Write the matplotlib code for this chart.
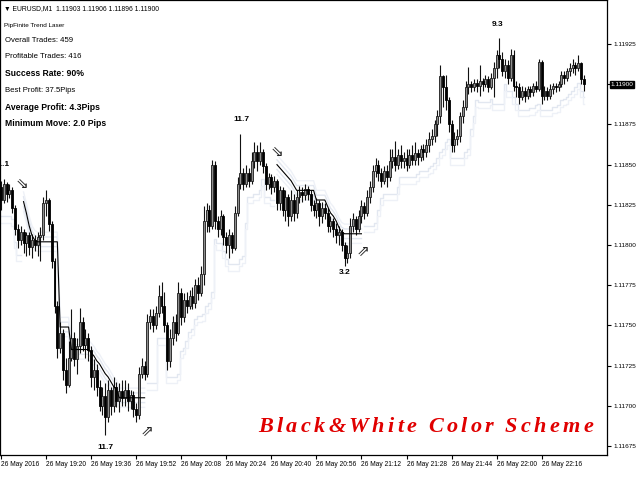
import numpy as np
import matplotlib
matplotlib.use("Agg")
import matplotlib.pyplot as plt
import matplotlib.transforms as mtransforms
from matplotlib import font_manager
from matplotlib.font_manager import FontProperties
from matplotlib.textpath import TextToPath

# --- EURUSD M1 candles, values in points above 1.10000 (1 point = 0.00001) ---
BASE = 1.10
PT = 1e-5
first_open = 1836
closes = [1828, 1838, 1832, 1834, 1823, 1810, 1803, 1808, 1801, 1806,
          1799, 1803, 1800, 1805, 1806, 1826, 1828, 1813, 1790, 1762,
          1736, 1745, 1722, 1713, 1730, 1742, 1729, 1737, 1752, 1738,
          1742, 1735, 1718, 1722, 1712, 1700, 1706, 1693, 1710, 1700,
          1712, 1703, 1709, 1705, 1710, 1703, 1707, 1698, 1694, 1720,
          1725, 1720, 1752, 1756, 1750, 1758, 1768, 1762, 1750, 1728,
          1742, 1752, 1745, 1770, 1755, 1766, 1762, 1768, 1764, 1775,
          1770, 1782, 1815, 1822, 1812, 1850, 1815, 1810, 1818, 1805,
          1800, 1806, 1798, 1820, 1838, 1845, 1838, 1845, 1840, 1852,
          1858, 1852, 1858, 1849, 1838, 1842, 1836, 1840, 1826, 1834,
          1822, 1830, 1818, 1828, 1820, 1830, 1833, 1831, 1835, 1832,
          1825, 1822, 1826, 1818, 1823, 1820, 1812, 1815, 1810, 1806,
          1808, 1800, 1792, 1795, 1812, 1816, 1810, 1818, 1824, 1820,
          1830, 1836, 1846, 1850, 1845, 1840, 1846, 1842, 1852, 1855,
          1850, 1856, 1852, 1854, 1850, 1856, 1853, 1857, 1855, 1860,
          1858, 1862, 1866, 1868, 1875, 1880, 1905, 1898, 1890, 1875,
          1862, 1866, 1868, 1880, 1886, 1898, 1900, 1898, 1901, 1899,
          1902, 1900, 1903, 1898, 1904, 1910, 1918, 1916, 1908, 1912,
          1904, 1918, 1899, 1898, 1892, 1896, 1893, 1897, 1895, 1899,
          1897, 1914, 1893, 1896, 1893, 1897, 1899, 1898, 1900, 1906,
          1904, 1908, 1910, 1912, 1910, 1913, 1903, 1900]
highs = [1840, 1841, 1839, 1838, 1836, 1825, 1813, 1812, 1810, 1808,
         1808, 1807, 1806, 1808, 1811, 1830, 1834, 1829, 1815, 1792,
         1765, 1752, 1748, 1730, 1740, 1760, 1746, 1742, 1761, 1755,
         1748, 1745, 1737, 1729, 1726, 1716, 1712, 1714, 1716, 1712,
         1718, 1715, 1714, 1716, 1716, 1714, 1710, 1709, 1702, 1724,
         1730, 1728, 1757, 1760, 1760, 1762, 1775, 1777, 1771, 1752,
         1748, 1756, 1757, 1777, 1773, 1770, 1771, 1772, 1774, 1779,
         1780, 1787, 1824, 1826, 1825, 1853, 1852, 1818, 1822, 1819,
         1808, 1810, 1808, 1824, 1842, 1869, 1848, 1850, 1848, 1858,
         1864, 1862, 1864, 1860, 1851, 1845, 1844, 1843, 1841, 1837,
         1836, 1834, 1832, 1834, 1832, 1834, 1837, 1836, 1838, 1837,
         1834, 1828, 1829, 1828, 1827, 1826, 1823, 1818, 1817, 1814,
         1812, 1810, 1802, 1800, 1817, 1820, 1818, 1822, 1828, 1827,
         1834, 1840, 1850, 1854, 1853, 1848, 1849, 1850, 1860, 1860,
         1865, 1860, 1862, 1858, 1860, 1860, 1862, 1864, 1860, 1862,
         1863, 1866, 1870, 1872, 1878, 1884, 1912, 1906, 1906, 1892,
         1878, 1870, 1872, 1883, 1890, 1902, 1911, 1902, 1903, 1903,
         1912, 1904, 1906, 1905, 1907, 1914, 1921, 1929, 1920, 1916,
         1915, 1922, 1921, 1902, 1901, 1899, 1898, 1899, 1899, 1901,
         1902, 1916, 1915, 1899, 1898, 1900, 1901, 1901, 1902, 1908,
         1908, 1910, 1913, 1916, 1914, 1918, 1914, 1906]
lows = [1822, 1826, 1827, 1829, 1820, 1806, 1798, 1800, 1795, 1793,
        1794, 1792, 1796, 1793, 1790, 1803, 1818, 1809, 1786, 1758,
        1730, 1733, 1716, 1708, 1712, 1728, 1725, 1720, 1733, 1734,
        1730, 1728, 1712, 1710, 1706, 1697, 1694, 1682, 1690, 1694,
        1696, 1699, 1696, 1700, 1700, 1697, 1698, 1693, 1690, 1692,
        1717, 1716, 1718, 1748, 1746, 1748, 1755, 1758, 1746, 1722,
        1724, 1738, 1740, 1744, 1750, 1752, 1758, 1760, 1760, 1761,
        1766, 1768, 1775, 1808, 1808, 1810, 1810, 1805, 1806, 1800,
        1795, 1792, 1795, 1797, 1818, 1835, 1834, 1836, 1836, 1838,
        1848, 1846, 1850, 1845, 1834, 1835, 1832, 1833, 1822, 1822,
        1818, 1815, 1812, 1815, 1815, 1817, 1826, 1827, 1828, 1828,
        1821, 1818, 1817, 1812, 1814, 1816, 1808, 1808, 1805, 1801,
        1800, 1796, 1787, 1789, 1792, 1808, 1806, 1808, 1814, 1816,
        1818, 1826, 1833, 1842, 1840, 1836, 1838, 1836, 1840, 1848,
        1846, 1847, 1848, 1848, 1846, 1848, 1850, 1850, 1850, 1852,
        1853, 1855, 1858, 1862, 1864, 1868, 1876, 1886, 1884, 1870,
        1858, 1858, 1862, 1864, 1876, 1884, 1894, 1895, 1896, 1895,
        1893, 1896, 1898, 1895, 1897, 1892, 1904, 1910, 1905, 1904,
        1900, 1902, 1896, 1892, 1888, 1890, 1889, 1891, 1892, 1893,
        1895, 1896, 1888, 1890, 1890, 1891, 1894, 1895, 1896, 1898,
        1900, 1902, 1905, 1907, 1906, 1908, 1900, 1896]

# trend laser (bearish stop line), points, one value per bar from its start bar
laser_a_start = 8
laser_a = [1827, 1820, 1812, 1806, 1803, 1802, 1802, 1802, 1802, 1802, 1802,
           1802, 1802, 1749, 1749, 1749, 1749, 1735, 1735, 1735, 1735, 1735,
           1735, 1735, 1733, 1731, 1728, 1726, 1723, 1720, 1718, 1715, 1712,
           1710, 1705, 1705, 1705, 1705, 1705, 1705, 1705, 1705, 1705, 1705]
laser_b_start = 98
laser_b = [1850, 1848, 1846, 1844, 1842, 1840, 1837, 1834, 1834, 1834, 1834,
           1834, 1834, 1834, 1828, 1828, 1828, 1828, 1824, 1820, 1818, 1815,
           1811, 1808, 1807, 1807, 1807, 1807, 1807, 1807, 1807]
# trend direction blocks: (first bar, last bar, 1 = up / -1 = down)
trend_blocks = [(0, 7, 1), (8, 51, -1), (52, 97, 1), (98, 128, -1), (129, 207, 1)]

# signal arrows and pip labels
arrow_bars = [7.5, 51.8, 98.0, 128.5]
arrow_pts = [1838, 1684, 1858, 1796]
arrow_up = [False, True, False, True]
pip_bars = [2.9, 37.0, 85.2, 122.2, 176.5]
pip_pts = [1850, 1674, 1878, 1783, 1937]
pip_text = ["11.1", "11.7", "11.7", "3.2", "9.3"]

tick_bars = [0, 16, 32, 48, 64, 80, 96, 112, 128, 144, 160, 176, 192]
tick_text = ["26 May 2016", "26 May 19:20", "26 May 19:36", "26 May 19:52",
             "26 May 20:08", "26 May 20:24", "26 May 20:40", "26 May 20:56",
             "26 May 21:12", "26 May 21:28", "26 May 21:44", "26 May 22:00",
             "26 May 22:16"]
price_ticks = [1.11675, 1.11700, 1.11725, 1.11750, 1.11775, 1.11800,
               1.11825, 1.11850, 1.11875, 1.11900, 1.11925]
last_price = 1.11900

info_lines = [("Overall Trades: 459", "normal"),
              ("Profitable Trades: 416", "normal"),
              ("Success Rate: 90%", "bold"),
              ("Best Profit: 37.5Pips", "normal"),
              ("Average Profit: 4.3Pips", "bold"),
              ("Minimum Move: 2.0 Pips", "bold")]

# --- fonts ---
names = {f.name for f in font_manager.fontManager.ttflist}
if "Liberation Sans Narrow" in names:
    ui = ["Liberation Sans Narrow", "DejaVu Sans"]
    k = 1.0
else:
    ui = ["Liberation Sans", "DejaVu Sans"]
    k = 0.82

c = np.array(closes) * PT + BASE
h = np.array(highs) * PT + BASE
l = np.array(lows) * PT + BASE
o = np.concatenate([[first_open], closes[:-1]]) * PT + BASE
x = np.arange(len(c))

fig = plt.figure(figsize=(6.4, 4.8), dpi=100)
fig.patch.set_facecolor("white")
ax = fig.add_axes([0.0, 25 / 480, 607 / 640, 455 / 480])

# faint glow of the laser
for a, b, d in trend_blocks:
    xs = x[a:b + 1]
    if d > 0:
        base = np.array([min(lows[max(a, i - 3):i + 1]) for i in range(a, b + 1)])
        for off, col in [(4, "#e2e7f0"), (8, "#eef1f7")]:
            ax.plot(xs, (base - off) * PT + BASE, drawstyle="steps-mid",
                    color=col, lw=1.0, zorder=1)
    else:
        lz = laser_a if a == laser_a_start else laser_b
        lz = np.array(lz[:b - a + 1])
        for off, col in [(3, "#e2e7f0"), (-3, "#e2e7f0"), (6, "#eef1f7"), (-6, "#eef1f7")]:
            ax.plot(xs, (lz + off) * PT + BASE, color=col, lw=1.0, zorder=1)

# candles
ax.vlines(x, l, h, color="#111111", lw=0.8, zorder=2)
bull = c >= o
body = np.where(np.abs(c - o) < 0.4 * PT, 0.4 * PT, c - o)
ax.bar(x[bull], body[bull], bottom=o[bull], width=0.7, color="#8e8e8e",
       edgecolor="#1a1a1a", linewidth=0.6, zorder=3)
ax.bar(x[~bull], body[~bull], bottom=o[~bull], width=0.7, color="black",
       edgecolor="black", linewidth=0.6, zorder=3)

# laser line
ax.plot(np.arange(laser_a_start, laser_a_start + len(laser_a)),
        np.array(laser_a) * PT + BASE, color="black", lw=0.8, zorder=4)
ax.plot(np.arange(laser_b_start, laser_b_start + len(laser_b)),
        np.array(laser_b) * PT + BASE, color="black", lw=0.8, zorder=4)

# arrows and pips
for xb, yp, up in zip(arrow_bars, arrow_pts, arrow_up):
    ax.text(xb, yp * PT + BASE, "\u21d7" if up else "\u21d8", fontsize=11,
            family="DejaVu Sans", ha="center", va="center", color="#222222", zorder=5)
for xb, yp, t in zip(pip_bars, pip_pts, pip_text):
    ax.text(xb, yp * PT + BASE, t, fontsize=7.4 * k, family=ui, weight="bold",
            ha="right" if xb < 5 else "center", va="center", zorder=5)

ax.set_xlim(-0.355, -0.355 + 607 / 2.816)
ax.set_ylim(1.116694, 1.119524)
ax.yaxis.tick_right()
ax.set_yticks(price_ticks)
ax.set_yticklabels(["" if abs(p - last_price) < 1e-9 else f"{p:.5f}" for p in price_ticks],
                   fontsize=5.6 * k, family=ui)
ax.set_xticks(tick_bars)
ax.set_xticklabels(tick_text, fontsize=5.8 * k, family=ui, ha="left")
ax.tick_params(axis="both", length=3, width=0.8, pad=1.5, colors="black")
for s in ax.spines.values():
    s.set_color("black")
    s.set_linewidth(0.9)

# current price tag
trans = mtransforms.blended_transform_factory(ax.transAxes, ax.transData)
ax.text(1.006, last_price, f"{last_price:.5f}", transform=trans, fontsize=5.6 * k,
        family=ui, color="white", ha="left", va="center", zorder=10,
        bbox=dict(boxstyle="square,pad=0.15", fc="black", ec="black"))

# header and info panel
fig.text(4 / 640, 1 - 9 / 480, "\u25bc EURUSD,M1  1.11903 1.11906 1.11896 1.11900",
         fontsize=5.9 * k, family=ui, va="center")
fig.text(4 / 640, 1 - 26 / 480, "PipFinite Trend Laser", fontsize=5.6 * k,
         family=ui, va="center")
for j, (t, w) in enumerate(info_lines):
    size = 7.6 * k if w == "bold" else 6.8 * k
    fig.text(5 / 640, 1 - (40 + j * 16.8) / 480, t, fontsize=size, family=ui,
             weight=w, va="center")

# spaced red caption
fp = FontProperties(family="Liberation Serif", style="italic", weight="bold", size=16)
ttp = TextToPath()
cx = 258.0
for ch in "Black&White Color Scheme":
    if ch == " ":
        cx += 8
        continue
    w_pt = ttp.get_text_width_height_descent(ch, fp, ismath=False)[0]
    fig.text(cx / 640, 1 - 432 / 480, ch, fontproperties=fp, color="#e00000",
             ha="left", va="baseline")
    cx += w_pt * 100 / 72 + 3.4

fig.savefig("out.png", dpi=100, facecolor="white")
